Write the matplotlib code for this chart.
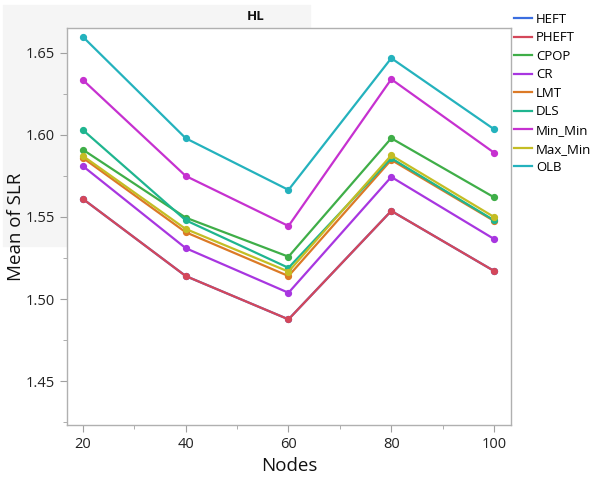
import matplotlib
matplotlib.use('Agg')
import matplotlib.pyplot as plt
import matplotlib.patches as patches
from matplotlib.ticker import MultipleLocator, FormatStrFormatter

plt.rcParams['font.family'] = ['Open Sans', 'DejaVu Sans']

nodes = [20, 40, 60, 80, 100]

heft = [1.561, 1.514, 1.4876, 1.5537, 1.5171]
pheft = [1.561, 1.514, 1.4876, 1.5537, 1.5171]
cpop = [1.591, 1.5496, 1.5258, 1.598, 1.562]
cr = [1.581, 1.531, 1.5038, 1.5744, 1.5366]
lmt = [1.586, 1.5407, 1.514, 1.5848, 1.5476]
dls = [1.603, 1.548, 1.519, 1.5858, 1.548]
min_min = [1.6335, 1.575, 1.5445, 1.634, 1.5892]
max_min = [1.5872, 1.5427, 1.5167, 1.5876, 1.550]
olb = [1.6598, 1.598, 1.5665, 1.6468, 1.6035]

names = ['HEFT', 'PHEFT', 'CPOP', 'CR', 'LMT', 'DLS', 'Min_Min', 'Max_Min', 'OLB']
series = [heft, pheft, cpop, cr, lmt, dls, min_min, max_min, olb]
colors = ['#3b6ee0', '#d4475a', '#3fae48', '#a836e0', '#dc7a26',
          '#1fb58f', '#c631d0', '#c4bd24', '#24b2bd']

fig = plt.figure(figsize=(5.97, 4.8), dpi=100)

# light panel behind the header strip, kept under the axes
fig.patches.append(patches.Rectangle((3 / 597, 1 - 246 / 480), 307 / 597, 241 / 480,
                                     transform=fig.transFigure, color='#f5f5f5', zorder=-5))

ax = fig.add_axes([67 / 597, 55 / 480, 444 / 597, 397 / 480])
ax.set_zorder(2)
ax.set_facecolor('white')

for name, vals, c in zip(names, series, colors):
    ax.plot(nodes, vals, color=c, lw=1.6, marker='o', ms=4.2, label=name)

ax.set_xlim(16.9, 103.3)
ax.set_ylim(1.4232, 1.6652)
ax.xaxis.set_major_locator(MultipleLocator(20))
ax.xaxis.set_minor_locator(MultipleLocator(10))
ax.yaxis.set_major_locator(MultipleLocator(0.05))
ax.yaxis.set_minor_locator(MultipleLocator(0.025))
ax.yaxis.set_major_formatter(FormatStrFormatter('%.2f'))

for s in ax.spines.values():
    s.set_color('#b0b0b0')
    s.set_linewidth(1.0)
ax.tick_params(which='both', colors='#a0a0a0', labelcolor='#222222', labelsize=10.5)
ax.tick_params(which='major', length=5)
ax.tick_params(which='minor', length=3)

ax.set_xlabel('Nodes', fontsize=13.5, color='#111111', labelpad=4)
ax.set_ylabel('Mean of SLR', fontsize=13.5, color='#111111')
ax.yaxis.set_label_coords(-0.095, 0.5)

fig.text(256 / 597, 1 - 17 / 480, 'HL', ha='center', va='center',
         fontsize=9.5, fontweight='bold', color='#111111')

ax.legend(loc='upper left', bbox_to_anchor=(1.0, 1.045), frameon=False,
          fontsize=9.5, handlelength=1.4, handletextpad=0.3, labelspacing=0.42,
          borderaxespad=0, borderpad=0.2, markerscale=0)

fig.savefig('out.png', dpi=100)
